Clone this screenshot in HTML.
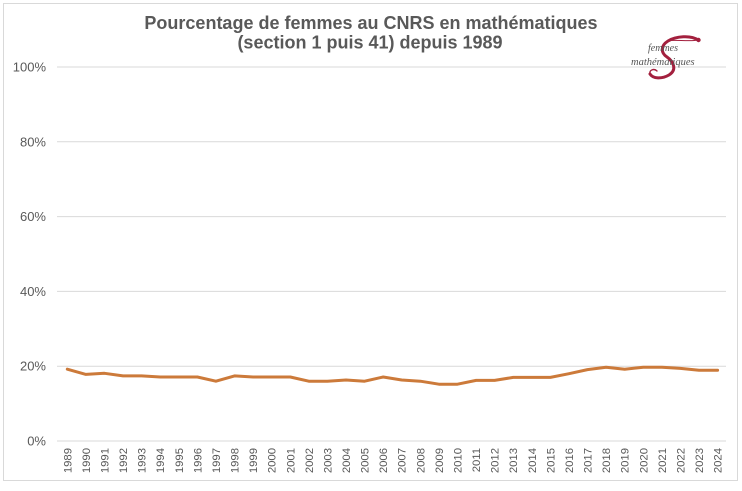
<!DOCTYPE html>
<html>
<head>
<meta charset="utf-8">
<style>
  html, body { margin:0; padding:0; background:#fff; }
  svg { display:block; }
  .s { font-family: "Liberation Sans", Arial, sans-serif; }
  .serif { font-family: "Liberation Serif", "Times New Roman", serif; font-style: italic; }
</style>
</head>
<body>
<svg width="742" height="491" viewBox="0 0 742 491" xmlns="http://www.w3.org/2000/svg">
  <rect x="0" y="0" width="742" height="491" fill="#fff"/>
  <rect x="3.5" y="3.5" width="734" height="477" fill="#fff" stroke="#d9d9d9" stroke-width="1"/>

  <!-- Title -->
  <text class="s" x="371" y="29" text-anchor="middle" font-size="18" font-weight="bold" fill="#595959">Pourcentage de femmes au CNRS en mathématiques</text>
  <text class="s" x="370" y="48.5" text-anchor="middle" font-size="18" font-weight="bold" fill="#595959">(section 1 puis 41) depuis 1989</text>

  <!-- Gridlines -->
  <g stroke="#d9d9d9" stroke-width="1">
    <line x1="57" y1="67" x2="726" y2="67"/>
    <line x1="57" y1="141.8" x2="726" y2="141.8"/>
    <line x1="57" y1="216.6" x2="726" y2="216.6"/>
    <line x1="57" y1="291.4" x2="726" y2="291.4"/>
    <line x1="57" y1="366.2" x2="726" y2="366.2"/>
    <line x1="57" y1="441" x2="726" y2="441"/>
  </g>

  <!-- Y labels -->
  <g class="s" font-size="13" fill="#595959" text-anchor="end">
    <text x="46" y="71.5">100%</text>
    <text x="46" y="146.3">80%</text>
    <text x="46" y="221.1">60%</text>
    <text x="46" y="295.9">40%</text>
    <text x="46" y="370.7">20%</text>
    <text x="46" y="445.5">0%</text>
  </g>

  <!-- Logo -->
  <g>
    <path d="M 698 40 C 691 35, 676 36, 668 41 C 660 46, 661 53, 667 57 C 674 62, 677 70, 669 75 C 662 79, 653 79, 650 74" fill="none" stroke="#a3203e" stroke-width="3" stroke-linecap="round"/>
    <path d="M 650 74 C 649 70, 654 68, 657 71" fill="none" stroke="#a3203e" stroke-width="1.4" stroke-linecap="round"/>
    <path d="M 668 41 C 672 39, 690 42, 698 40" fill="none" stroke="#a3203e" stroke-width="1" stroke-linecap="round"/>
    <circle cx="698.5" cy="40" r="2.2" fill="#a3203e"/>
    <text class="serif" x="648" y="51" font-size="10" fill="#555">femmes</text>
    <text class="serif" x="631" y="65" font-size="10.5" fill="#555">mathématiques</text>
  </g>

  <!-- Data line -->
  <polyline fill="none" stroke="#cc7a3a" stroke-width="3" stroke-linejoin="round" stroke-linecap="round"
    points="67.3,369.2 85.9,374.4 104.5,373.3 123.0,375.9 141.6,375.9 160.2,377.0 178.8,377.0 197.4,377.0 215.9,381.2 234.5,375.9 253.1,377.0 271.7,377.0 290.3,377.0 308.8,381.2 327.4,381.2 346.0,380.0 364.6,381.2 383.2,377.0 401.7,380.0 420.3,381.2 438.9,384.2 457.5,384.2 476.1,380.4 494.6,380.4 513.2,377.4 531.8,377.4 550.4,377.4 569.0,373.7 587.5,369.6 606.1,367.3 624.7,369.2 643.3,367.3 661.9,367.3 680.4,368.4 699.0,370.3 717.6,370.3"/>

  <!-- X labels -->
  <g class="s" font-size="11.3" fill="#595959" text-anchor="end">
    <text transform="translate(71.3,448) rotate(-90)">1989</text>
    <text transform="translate(89.9,448) rotate(-90)">1990</text>
    <text transform="translate(108.5,448) rotate(-90)">1991</text>
    <text transform="translate(127.0,448) rotate(-90)">1992</text>
    <text transform="translate(145.6,448) rotate(-90)">1993</text>
    <text transform="translate(164.2,448) rotate(-90)">1994</text>
    <text transform="translate(182.8,448) rotate(-90)">1995</text>
    <text transform="translate(201.4,448) rotate(-90)">1996</text>
    <text transform="translate(219.9,448) rotate(-90)">1997</text>
    <text transform="translate(238.5,448) rotate(-90)">1998</text>
    <text transform="translate(257.1,448) rotate(-90)">1999</text>
    <text transform="translate(275.7,448) rotate(-90)">2000</text>
    <text transform="translate(294.3,448) rotate(-90)">2001</text>
    <text transform="translate(312.8,448) rotate(-90)">2002</text>
    <text transform="translate(331.4,448) rotate(-90)">2003</text>
    <text transform="translate(350.0,448) rotate(-90)">2004</text>
    <text transform="translate(368.6,448) rotate(-90)">2005</text>
    <text transform="translate(387.2,448) rotate(-90)">2006</text>
    <text transform="translate(405.7,448) rotate(-90)">2007</text>
    <text transform="translate(424.3,448) rotate(-90)">2008</text>
    <text transform="translate(442.9,448) rotate(-90)">2009</text>
    <text transform="translate(461.5,448) rotate(-90)">2010</text>
    <text transform="translate(480.1,448) rotate(-90)">2011</text>
    <text transform="translate(498.6,448) rotate(-90)">2012</text>
    <text transform="translate(517.2,448) rotate(-90)">2013</text>
    <text transform="translate(535.8,448) rotate(-90)">2014</text>
    <text transform="translate(554.4,448) rotate(-90)">2015</text>
    <text transform="translate(573.0,448) rotate(-90)">2016</text>
    <text transform="translate(591.5,448) rotate(-90)">2017</text>
    <text transform="translate(610.1,448) rotate(-90)">2018</text>
    <text transform="translate(628.7,448) rotate(-90)">2019</text>
    <text transform="translate(647.3,448) rotate(-90)">2020</text>
    <text transform="translate(665.9,448) rotate(-90)">2021</text>
    <text transform="translate(684.4,448) rotate(-90)">2022</text>
    <text transform="translate(703.0,448) rotate(-90)">2023</text>
    <text transform="translate(721.6,448) rotate(-90)">2024</text>
  </g>
</svg>
</body>
</html>
